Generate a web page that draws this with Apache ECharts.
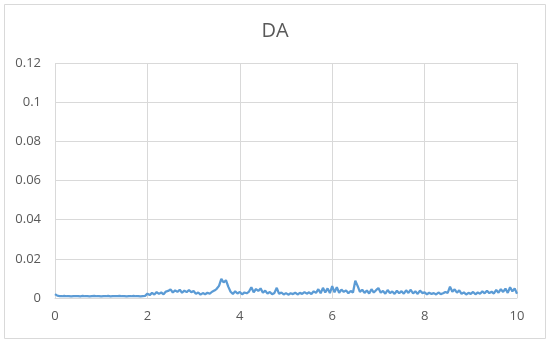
<!DOCTYPE html>
<html>
<head>
<meta charset="utf-8">
<title>DA</title>
<script src="https://cdn.jsdelivr.net/npm/echarts@6/dist/echarts.min.js"></script>
<style>
  html, body { margin: 0; padding: 0; background: #fff; }
  #chart { width: 550px; height: 344px; }
</style>
</head>
<body>
<div id="chart"></div>
<script>
// x positions, every 0.05
const xValues = [
  0, 0.05, 0.1, 0.15, 0.2, 0.25, 0.3, 0.35, 0.4, 0.45,
  0.5, 0.55, 0.6, 0.65, 0.7, 0.75, 0.8, 0.85, 0.9, 0.95,
  1, 1.05, 1.1, 1.15, 1.2, 1.25, 1.3, 1.35, 1.4, 1.45,
  1.5, 1.55, 1.6, 1.65, 1.7, 1.75, 1.8, 1.85, 1.9, 1.95,
  2, 2.05, 2.1, 2.15, 2.2, 2.25, 2.3, 2.35, 2.4, 2.45,
  2.5, 2.55, 2.6, 2.65, 2.7, 2.75, 2.8, 2.85, 2.9, 2.95,
  3, 3.05, 3.1, 3.15, 3.2, 3.25, 3.3, 3.35, 3.4, 3.45,
  3.5, 3.55, 3.6, 3.65, 3.7, 3.75, 3.8, 3.85, 3.9, 3.95,
  4, 4.05, 4.1, 4.15, 4.2, 4.25, 4.3, 4.35, 4.4, 4.45,
  4.5, 4.55, 4.6, 4.65, 4.7, 4.75, 4.8, 4.85, 4.9, 4.95,
  5, 5.05, 5.1, 5.15, 5.2, 5.25, 5.3, 5.35, 5.4, 5.45,
  5.5, 5.55, 5.6, 5.65, 5.7, 5.75, 5.8, 5.85, 5.9, 5.95,
  6, 6.05, 6.1, 6.15, 6.2, 6.25, 6.3, 6.35, 6.4, 6.45,
  6.5, 6.55, 6.6, 6.65, 6.7, 6.75, 6.8, 6.85, 6.9, 6.95,
  7, 7.05, 7.1, 7.15, 7.2, 7.25, 7.3, 7.35, 7.4, 7.45,
  7.5, 7.55, 7.6, 7.65, 7.7, 7.75, 7.8, 7.85, 7.9, 7.95,
  8, 8.05, 8.1, 8.15, 8.2, 8.25, 8.3, 8.35, 8.4, 8.45,
  8.5, 8.55, 8.6, 8.65, 8.7, 8.75, 8.8, 8.85, 8.9, 8.95,
  9, 9.05, 9.1, 9.15, 9.2, 9.25, 9.3, 9.35, 9.4, 9.45,
  9.5, 9.55, 9.6, 9.65, 9.7, 9.75, 9.8, 9.85, 9.9, 9.95,
  10
];

const daValues = [
  0.002, 0.0012, 0.001, 0.0009, 0.0011, 0.0009, 0.001, 0.0008, 0.001, 0.0009,
  0.001, 0.0008, 0.0011, 0.0009, 0.001, 0.0008, 0.001, 0.0011, 0.0009, 0.001,
  0.0008, 0.001, 0.0009, 0.0011, 0.0008, 0.001, 0.0009, 0.001, 0.0011, 0.0009,
  0.001, 0.0008, 0.001, 0.0009, 0.0011, 0.0009, 0.001, 0.0008, 0.001, 0.0011,
  0.0022, 0.0015, 0.0026, 0.0018, 0.003, 0.0021, 0.0028, 0.0019, 0.0033, 0.0036,
  0.0044, 0.0028, 0.0039, 0.0031, 0.0042, 0.0027, 0.0038, 0.003, 0.0041, 0.0029,
  0.0036, 0.0021, 0.0028, 0.0017, 0.0025, 0.0019, 0.0027, 0.0022, 0.0032, 0.0038,
  0.0047, 0.0062, 0.0098, 0.0079, 0.0091, 0.0058, 0.0032, 0.0021, 0.0034, 0.0023,
  0.0031, 0.0019, 0.0028, 0.0024, 0.0033, 0.0055, 0.0029, 0.0046, 0.0036, 0.0049,
  0.0027, 0.0038, 0.0022, 0.0031, 0.0019, 0.0026, 0.0052, 0.0021, 0.0028, 0.0018,
  0.0025, 0.0017, 0.0024, 0.002, 0.0027, 0.0018, 0.0026, 0.0021, 0.003, 0.0022,
  0.0029, 0.002, 0.0034, 0.0026, 0.0045, 0.0024, 0.0052, 0.0028, 0.0049, 0.0025,
  0.0061, 0.0029, 0.0055, 0.0027, 0.0043, 0.0031, 0.0039, 0.0024, 0.0036, 0.0028,
  0.0088, 0.0062, 0.0031, 0.0042, 0.0026, 0.0038, 0.0023, 0.0045, 0.0028, 0.004,
  0.0051, 0.0027, 0.0036, 0.0022, 0.0041, 0.0025, 0.0033, 0.0021, 0.0037, 0.0024,
  0.0035, 0.0022, 0.0039, 0.0026, 0.0042, 0.0023, 0.0034, 0.0021, 0.0038, 0.0025,
  0.0029, 0.0019, 0.0027, 0.0021, 0.0025, 0.0018, 0.0028, 0.002, 0.0024, 0.0031,
  0.0026, 0.0058, 0.0032, 0.0044, 0.0027, 0.0039, 0.0021, 0.0029, 0.0018, 0.0026,
  0.0021, 0.0031, 0.0019, 0.0028, 0.0022, 0.0034, 0.0024, 0.0037, 0.0025, 0.0032,
  0.0023, 0.0041, 0.0027, 0.0045, 0.0031, 0.0048, 0.0026, 0.0055, 0.0034, 0.0049,
  0.0022
];

const chart = echarts.init(document.getElementById('chart'));
const textColor = '#595959';
const gridColor = '#d9d9d9';

const points = xValues.map((x, i) => [x, daValues[i]]);

chart.setOption({
  animation: false,
  textStyle: { fontFamily: '"Open Sans", sans-serif' },
  title: {
    text: 'DA',
    left: 'center',
    top: 16,
    textStyle: { color: textColor, fontSize: 20, fontWeight: 'normal' }
  },
  graphic: [{
    type: 'rect',
    shape: { x: 4.5, y: 4.5, width: 541, height: 334 },
    style: { fill: 'none', stroke: gridColor, lineWidth: 1 },
    silent: true
  }],
  grid: { left: 55, right: 33, top: 63, bottom: 46 },
  xAxis: {
    type: 'value',
    min: 0,
    max: 10,
    interval: 2,
    axisLine: { show: true, lineStyle: { color: gridColor } },
    axisTick: { show: false },
    axisLabel: { color: textColor, fontSize: 13, margin: 12 },
    splitLine: { show: true, lineStyle: { color: gridColor } }
  },
  yAxis: {
    type: 'value',
    min: 0,
    max: 0.12,
    interval: 0.02,
    axisLine: { show: false },
    axisTick: { show: false },
    axisLabel: { color: textColor, fontSize: 13, margin: 14 },
    splitLine: { show: true, lineStyle: { color: gridColor } }
  },
  series: [{
    name: 'DA',
    type: 'line',
    data: points,
    showSymbol: false,
    lineStyle: { color: '#5b9bd5', width: 2.25 },
    itemStyle: { color: '#5b9bd5' }
  }]
});
</script>
</body>
</html>
